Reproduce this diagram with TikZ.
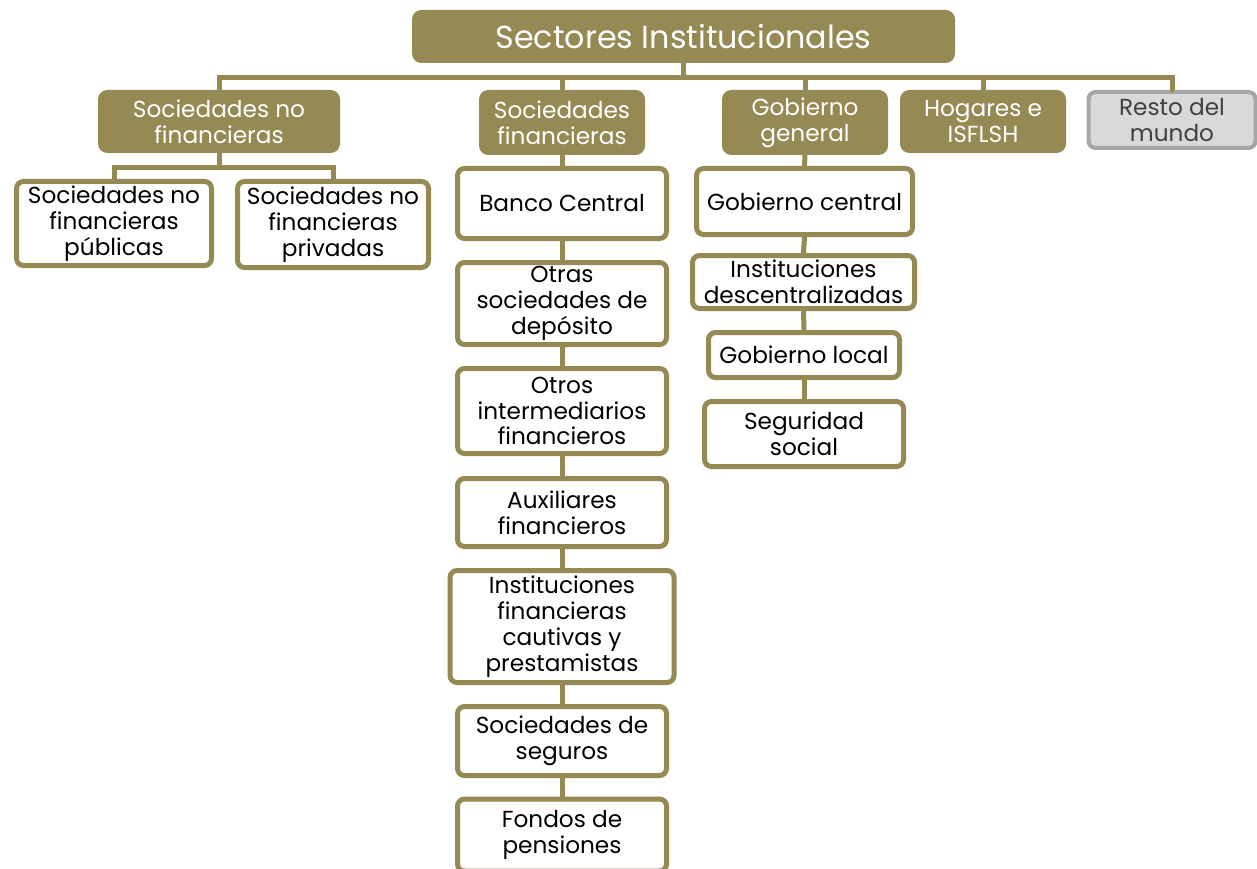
\documentclass[tikz,border=0pt]{standalone}
\usepackage{fontspec}
\setmainfont{Poppins}
\definecolor{gold}{HTML}{958A54}
\definecolor{grayfill}{HTML}{D9D9D9}
\definecolor{grayline}{HTML}{A6A6A6}
\definecolor{graytext}{HTML}{404040}
\begin{document}
\begin{tikzpicture}[x=1pt,y=-1pt,
  base/.style={rounded corners=7pt, align=center, inner sep=0pt, line width=5pt, font=\fontsize{23.2}{25.8}\selectfont},
  head/.style={base, draw=gold, fill=gold, text=white},
  sub/.style={base, draw=gold, fill=white, text=black},
  conn/.style={draw=gold, line width=5pt}]
\useasboundingbox (0,0) rectangle (1257,869);
% title
\node[head, minimum width=538pt, minimum height=48pt, font=\fontsize{31.8}{34}\selectfont] (title) at (683.5,36.5) {Sectores Institucionales};
% level 1
\node[head, minimum width=237pt, minimum height=58pt] (snf) at (219,121.5) {Sociedades no\\financieras};
\node[head, minimum width=161pt, minimum height=60pt] (sf) at (562,122.5) {Sociedades\\financieras};
\node[head, minimum width=161pt, minimum height=60pt] (gg) at (805,122.5) {Gobierno\\general};
\node[head, minimum width=161pt, minimum height=58pt] (hog) at (983,121.5) {Hogares e\\ISFLSH};
\node[base, draw=grayline, fill=grayfill, text=graytext, line width=4pt, minimum width=167pt, minimum height=56pt] (resto) at (1172,120) {Resto del\\mundo};
\coordinate (bary) at (0,77.5);
% SNF children
\node[sub, minimum width=195pt, minimum height=84pt] (snfpub) at (114,223.5) {Sociedades no\\financieras\\públicas};
\node[sub, minimum width=191pt, minimum height=86pt] (snfpri) at (333,224.5) {Sociedades no\\financieras\\privadas};
\coordinate (bary2) at (0,167.5);
% SF chain
\node[sub, minimum width=209pt, minimum height=70pt] (bc) at (562,203.5) {Banco Central};
\node[sub, minimum width=209pt, minimum height=82pt] (osd) at (562,303.5) {Otras\\sociedades de\\depósito};
\node[sub, minimum width=209pt, minimum height=85pt] (oif) at (562,411) {Otros\\intermediarios\\financieros};
\node[sub, minimum width=209pt, minimum height=68pt] (aux) at (562,512.5) {Auxiliares\\financieros};
\node[sub, minimum width=224pt, minimum height=112pt] (ifc) at (562,626.5) {Instituciones\\financieras\\cautivas y\\prestamistas};
\node[sub, minimum width=209pt, minimum height=69pt] (seg) at (562,741) {Sociedades de\\seguros};
\node[sub, minimum width=209pt, minimum height=72pt] (fp) at (562,835) {Fondos de\\pensiones};
% GG chain
\node[sub, minimum width=216pt, minimum height=66pt] (gc) at (804.5,201.5) {Gobierno central};
\node[sub, minimum width=222pt, minimum height=53pt] (idesc) at (803.5,282) {Instituciones\\descentralizadas};
\node[sub, minimum width=191pt, minimum height=45pt] (gl) at (804,355) {Gobierno local};
\node[sub, minimum width=199pt, minimum height=65pt] (ss) at (804,434) {Seguridad\\social};
% connectors
\draw[conn] (title.south) -- (title.south |- bary);
\draw[conn, line cap=round] (snf.north) -- (snf.north |- bary) -- (resto.north |- bary) -- (resto.north);
\draw[conn] (sf.north) -- (sf.north |- bary);
\draw[conn] (gg.north) -- (gg.north |- bary);
\draw[conn] (hog.north) -- (hog.north |- bary);
\draw[conn] (snf.south) -- (snf.south |- bary2);
\draw[conn] (snfpub.north) -- (snfpub.north |- bary2) -- (snfpri.north |- bary2) -- (snfpri.north);
\draw[conn] (sf.south) -- (bc.north);
\draw[conn] (bc.south) -- (osd.north);
\draw[conn] (osd.south) -- (oif.north);
\draw[conn] (oif.south) -- (aux.north);
\draw[conn] (aux.south) -- (ifc.north);
\draw[conn] (ifc.south) -- (seg.north);
\draw[conn] (seg.south) -- (fp.north);
\draw[conn] (gg.south) -- (gc.north);
\draw[conn] (gc.south) -- (idesc.north);
\draw[conn] (idesc.south) -- (gl.north);
\draw[conn] (gl.south) -- (ss.north);
\end{tikzpicture}
\end{document}
